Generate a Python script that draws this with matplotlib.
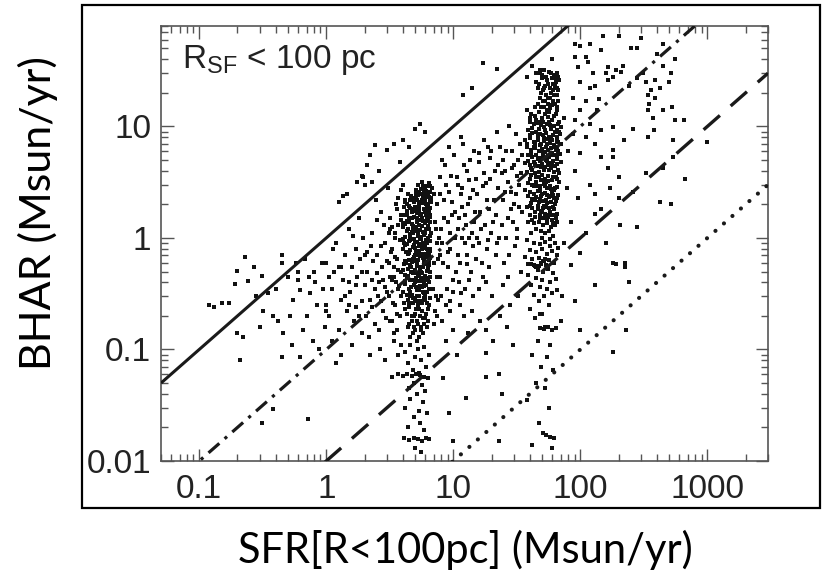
import numpy as np
import matplotlib
matplotlib.use("Agg")
import matplotlib.pyplot as plt
from matplotlib.patches import Rectangle
from matplotlib.ticker import FixedLocator, FuncFormatter, LogLocator, NullFormatter

plt.rcParams["mathtext.fontset"] = "custom"
plt.rcParams["mathtext.rm"] = "Liberation Sans"

# ---- data: (SFR, BHAR) pairs, grouped by region ----
col_a_core = [
    (5.3, 3.0), (5.7, 3.2), (6.1, 2.9), (6.4, 3.1), (5.9, 2.7), (6.6, 2.6), (5.5, 2.5), (6.2, 2.4), (6.8, 2.8), (5.1, 2.7),
    (4.4, 2.5), (6.0, 2.2), (6.5, 2.15), (5.6, 2.05), (4.8, 2.3), (6.3, 2.0), (5.8, 2.35), (4.2, 2.1), (6.7, 2.3), (5.2, 2.2),
    (4.1, 1.9), (4.6, 1.85), (5.0, 1.75), (5.4, 1.95), (5.9, 1.8), (6.4, 1.7), (4.3, 1.6), (4.9, 1.55), (5.6, 1.65), (6.2, 1.5),
    (3.9, 1.45), (4.5, 1.4), (5.2, 1.5), (5.8, 1.42), (6.6, 1.55), (4.7, 1.33), (5.4, 1.3), (6.0, 1.35), (4.2, 1.32), (6.5, 1.38),
    (4.0, 1.25), (4.4, 1.2), (4.8, 1.22), (5.1, 1.15), (5.5, 1.18), (6.1, 1.2), (6.7, 1.1), (4.6, 1.08), (5.3, 1.05), (5.9, 1.07),
    (4.2, 1.02), (4.9, 0.98), (5.6, 0.97), (6.3, 1.0), (4.5, 0.94), (5.2, 0.92), (5.8, 0.9), (6.5, 0.93), (4.1, 0.91), (4.7, 1.12),
    (4.3, 0.88), (4.9, 0.86), (5.4, 0.84), (6.0, 0.87), (6.6, 0.8), (4.0, 0.8), (4.6, 0.78), (5.1, 0.76), (5.7, 0.79), (6.3, 0.74),
    (4.4, 0.72), (5.0, 0.7), (5.5, 0.69), (6.1, 0.68), (4.8, 0.65), (5.3, 0.63), (5.9, 0.64), (4.2, 0.62), (6.5, 0.66), (4.7, 0.61),
    (4.1, 0.58), (4.6, 0.57), (5.2, 0.56), (5.8, 0.55), (6.4, 0.57), (4.4, 0.53), (5.0, 0.52), (5.6, 0.5), (6.2, 0.51), (3.9, 0.5),
    (4.8, 0.48), (5.4, 0.47), (6.0, 0.46), (4.3, 0.45), (5.1, 0.44), (5.7, 0.43), (6.6, 0.45), (4.6, 0.42), (5.3, 0.41), (5.9, 0.4),
    (4.2, 0.39), (4.9, 0.38), (5.5, 0.37), (6.1, 0.38), (4.5, 0.35), (5.2, 0.34), (5.8, 0.33), (6.4, 0.35), (4.0, 0.33), (4.7, 0.31),
    (5.4, 0.3), (6.0, 0.3), (4.4, 0.28), (5.0, 0.28), (5.6, 0.27), (6.2, 0.26), (4.8, 0.26), (5.3, 0.25), (4.1, 0.26), (5.9, 0.29),
    (4.5, 0.24), (5.1, 0.23), (5.7, 0.22), (6.3, 0.23), (4.3, 0.21), (4.9, 0.2), (5.5, 0.2), (6.0, 0.19), (4.7, 0.18), (5.3, 0.17),
    (5.9, 0.17), (4.4, 0.16), (5.0, 0.15), (5.6, 0.15), (6.2, 0.16), (4.8, 0.14), (5.4, 0.13), (5.8, 0.14), (4.6, 0.13), (5.2, 0.12),
    (4.35, 2.0), (5.45, 1.6), (6.05, 1.62), (4.75, 1.7), (5.05, 1.25), (5.75, 1.12), (6.35, 1.28), (4.55, 1.0), (5.35, 0.88), (6.15, 0.95),
    (4.85, 0.83), (5.65, 0.72), (6.45, 0.7), (4.25, 0.75), (5.15, 0.6), (5.95, 0.58), (4.65, 0.5), (5.45, 0.55), (6.25, 0.6), (4.15, 0.47),
    (5.25, 0.46), (6.35, 0.42), (4.95, 0.4), (5.65, 0.36), (4.55, 0.3), (5.85, 0.32), (6.55, 0.29), (5.15, 0.27), (4.65, 0.36), (5.5, 0.41),
    (6.05, 1.42), (5.2, 1.38), (4.45, 1.52), (5.95, 2.05), (6.5, 1.85), (5.35, 1.78), (4.95, 1.9), (4.1, 1.6), (5.7, 1.52), (6.3, 1.22),
    (4.3, 1.42), (4.85, 1.1), (5.55, 1.02), (6.6, 1.05), (4.05, 0.98), (5.0, 0.92), (5.75, 0.85), (6.2, 0.8), (4.5, 0.64), (5.3, 0.71),
]

col_a_dense = [
    (4.15, 2.2), (4.65, 2.4), (5.05, 2.55), (5.55, 2.75), (6.15, 2.65), (6.45, 2.35), (5.25, 2.45), (5.85, 2.5), (6.7, 2.1), (4.45, 1.95),
    (4.9, 2.1), (5.65, 2.2), (6.25, 1.85), (4.3, 1.75), (5.15, 1.68), (5.95, 1.72), (6.55, 1.62), (4.7, 1.5), (5.5, 1.45), (6.35, 1.45),
    (4.05, 1.35), (4.85, 1.28), (5.7, 1.28), (6.45, 1.2), (4.35, 1.15), (5.25, 1.1), (6.0, 1.1), (4.6, 0.96), (5.45, 0.99), (6.25, 0.9),
    (4.15, 0.86), (5.0, 0.82), (5.8, 0.81), (6.55, 0.77), (4.5, 0.74), (5.35, 0.76), (6.1, 0.72), (4.9, 0.68), (5.75, 0.66), (6.4, 0.62),
    (4.25, 0.6), (5.05, 0.62), (5.85, 0.6), (4.65, 0.55), (5.5, 0.53), (6.3, 0.54), (4.05, 0.52), (4.95, 0.5), (5.7, 0.48), (6.5, 0.49),
    (4.4, 0.46), (5.2, 0.48), (6.05, 0.44), (4.75, 0.42), (5.6, 0.44), (6.4, 0.4), (4.2, 0.41), (5.05, 0.36), (5.9, 0.37), (4.6, 0.33),
    (5.4, 0.34), (6.2, 0.33), (4.35, 0.31), (5.15, 0.3), (5.95, 0.28), (4.85, 0.29), (5.65, 0.26), (6.45, 0.25), (4.5, 0.26), (5.35, 0.23),
    (4.15, 0.23), (6.1, 0.21), (5.0, 0.21), (4.7, 0.2), (5.8, 0.19), (5.2, 0.18), (6.3, 0.18), (4.45, 0.17), (5.55, 0.16), (4.9, 0.16),
    (6.0, 2.85), (5.4, 2.6), (6.55, 2.95), (5.75, 2.95), (6.3, 2.5), (5.1, 2.35), (4.55, 2.2), (6.05, 2.0), (5.35, 2.1), (4.8, 1.8),
]

col_a_edge = [
    (3.2, 1.5), (3.5, 1.1), (3.3, 0.8), (3.6, 0.65), (3.4, 0.45), (3.7, 0.35), (3.1, 0.3), (3.5, 0.25), (3.8, 0.2), (3.3, 0.18),
    (3.6, 1.8), (3.7, 2.3), (3.4, 0.55), (3.0, 0.62), (3.8, 0.95), (3.2, 1.2), (3.55, 0.4), (7.2, 1.4), (7.4, 0.9), (7.1, 0.6),
    (7.5, 0.45), (7.0, 2.5), (7.3, 0.3), (7.8, 0.7), (7.2, 0.22), (3.9, 2.7), (4.0, 3.0), (3.6, 0.15), (7.0, 0.17), (3.4, 0.12),
    (4.6, 0.11), (5.3, 0.1), (5.9, 0.105), (4.2, 0.095), (6.4, 0.09), (5.0, 0.085), (5.6, 0.08), (4.4, 0.075), (6.1, 0.07), (4.8, 0.066),
    (5.4, 0.062), (4.3, 0.06), (4.7, 0.058), (5.1, 0.06), (5.5, 0.059), (5.9, 0.057), (6.3, 0.056), (4.9, 0.05), (5.7, 0.048), (4.5, 0.045),
    (6.0, 0.042), (5.2, 0.04), (4.6, 0.036), (5.8, 0.034), (4.2, 0.03), (5.4, 0.028), (6.2, 0.027), (4.9, 0.025), (5.5, 0.022), (4.4, 0.02),
    (5.9, 0.019), (4.1, 0.016), (4.5, 0.0155), (4.9, 0.016), (5.3, 0.0158), (5.7, 0.0152), (6.1, 0.016), (6.4, 0.0157), (5.0, 0.013), (5.6, 0.012),
    (3.3, 0.057), (3.7, 0.06), (4.0, 0.058),
]

col_b_core = [
    (48, 30), (52, 32), (57, 31), (62, 29), (66, 30), (50, 27), (55, 26), (60, 27), (64, 25), (68, 26),
    (47, 24), (53, 23), (58, 22), (63, 23), (67, 21), (49, 20), (54, 19), (59, 20), (65, 19), (51, 17),
    (56, 16), (61, 17), (46, 16), (66, 15), (58, 14.5),
    (38, 14), (41, 13), (44, 12.5), (47, 13.5), (50, 12), (53, 13), (56, 12.2), (60, 11.5), (64, 12.8), (68, 11),
    (40, 11), (43, 10.5), (46, 10.8), (49, 10.2), (52, 9.8), (55, 10.5), (59, 9.5), (62, 10), (66, 9.3), (70, 9.8),
    (39, 9.2), (42, 8.8), (45, 9), (48, 8.6), (51, 8.3), (54, 8.8), (57, 8.1), (61, 8.4), (65, 8), (69, 8.5),
    (37, 7.5), (40, 7.8), (43, 7.2), (46, 7.6), (49, 7), (52, 7.4), (55, 6.9), (58, 7.1), (62, 6.8), (67, 7.2),
    (38, 6.5), (41, 6.2), (44, 6.4), (47, 6), (50, 6.3), (53, 5.9), (56, 6.1), (60, 5.8), (64, 6.2), (69, 5.7),
    (39, 5.5), (42, 5.3), (45, 5.6), (48, 5.2), (51, 5.4), (54, 5), (57, 5.3), (61, 4.9), (65, 5.1), (70, 4.8),
    (37, 4.7), (40, 4.5), (43, 4.8), (46, 4.4), (50, 4.6), (53, 4.3), (56, 4.5), (59, 4.2), (63, 4.4), (67, 4.1),
    (38, 3.9), (41, 3.7), (44, 3.8), (47, 3.5), (50, 3.7), (53, 3.4), (56, 3.6), (60, 3.3), (64, 3.5), (68, 3.2),
    (39, 3.1), (42, 3.0), (45, 3.2), (48, 2.9), (52, 3.05), (55, 2.8), (58, 2.95), (62, 2.7), (66, 2.85), (37, 2.7),
    (40, 2.6), (43, 2.5), (46, 2.65), (49, 2.4), (53, 2.55), (57, 2.35), (61, 2.45), (65, 2.3), (44, 2.2), (51, 2.15),
    (55, 2.05), (59, 2.1), (63, 2.0), (41, 2.05), (47, 2.1),
    (38, 1.9), (42, 1.85), (46, 1.8), (50, 1.75), (54, 1.9), (58, 1.7), (62, 1.8), (66, 1.65), (40, 1.6), (44, 1.55),
    (48, 1.6), (52, 1.5), (56, 1.55), (60, 1.45), (64, 1.5), (39, 1.4), (43, 1.35), (47, 1.4), (51, 1.3), (55, 1.35),
    (59, 1.25), (63, 1.3), (45, 1.2), (49, 1.15), (53, 1.1), (57, 1.15), (61, 1.05), (41, 1.1), (50, 1.0), (58, 0.98),
    (45, 25), (61, 21), (56, 18), (52, 15), (63, 16), (48, 11), (57, 13.5), (44, 7), (59, 8), (66, 6.5),
    (48, 4.9), (58, 4.7), (42, 4.1), (54, 3.2), (60, 2.6), (67, 2.45), (49, 3.3), (46, 2.9), (52, 1.95), (57, 1.62),
]

col_b_dense = [
    (50, 29), (54, 28), (59, 30), (63, 27), (67, 28), (46, 22), (51, 21), (56, 24), (61, 24), (65, 22),
    (48, 18), (53, 17), (58, 18), (62, 19), (67, 17), (44, 15), (49, 15), (55, 14), (60, 15.5), (65, 14),
    (40, 12), (45, 11.5), (51, 11), (57, 11), (62, 12.5), (67, 10.5), (42, 9.7), (47, 9.4), (53, 9.2), (58, 10.2),
    (63, 9), (68, 9), (40, 8.3), (46, 8.2), (52, 7.8), (56, 7.7), (60, 7.6), (65, 7.4), (70, 7), (38, 6.9),
    (43, 6.6), (48, 6.8), (54, 6.5), (59, 6.4), (63, 6.6), (67, 6), (41, 5.8), (46, 5.1), (51, 5.8), (56, 5.4),
    (61, 5.5), (66, 5.5), (39, 4.9), (44, 4.6), (49, 4.3), (55, 4.9), (60, 4.6), (65, 4.6), (41, 4.2), (47, 3.9),
    (52, 4.1), (57, 4.1), (62, 3.9), (68, 3.8), (40, 3.4), (45, 3.5), (51, 3.3), (56, 3.25), (61, 3.5), (66, 3.35),
    (43, 2.9), (48, 2.7), (53, 2.9), (59, 2.75), (63, 2.8), (39, 2.4), (45, 2.35), (50, 2.5), (55, 2.45), (62, 2.3),
    (42, 2.25), (48, 2.25), (54, 2.2), (58, 2.4), (64, 2.15), (40, 1.95), (46, 1.95), (51, 1.85), (57, 1.85), (61, 1.9),
    (44, 1.72), (49, 1.7), (53, 1.65), (59, 1.6), (63, 1.62), (42, 1.45), (48, 1.5), (55, 1.42), (61, 1.35), (66, 1.4),
]

col_b_low = [
    (38, 0.95), (43, 0.9), (48, 0.88), (53, 0.92), (58, 0.85), (63, 0.9), (67, 0.82), (40, 0.78), (45, 0.75), (50, 0.8),
    (55, 0.72), (60, 0.76), (65, 0.7), (37, 0.68), (42, 0.65), (47, 0.66), (52, 0.62), (57, 0.64), (62, 0.6), (44, 0.56),
    (49, 0.58), (54, 0.57), (46, 0.52), (51, 0.5), (56, 0.53), (61, 0.48), (39, 0.47), (45, 0.44), (50, 0.42), (58, 0.4),
    (64, 0.43), (41, 0.38), (48, 0.36), (55, 0.35), (43, 0.31), (52, 0.3), (60, 0.32), (47, 0.27), (57, 0.25), (40, 0.23),
    (50, 0.21), (44, 0.19), (53, 0.16), (48, 0.155), (52, 0.152), (56, 0.158), (60, 0.15), (64, 0.155), (46, 0.12), (58, 0.11),
    (42, 0.09), (55, 0.085), (49, 0.07), (61, 0.065), (45, 0.05), (53, 0.045), (38, 0.035), (57, 0.03), (47, 0.022), (51, 0.018),
    (54, 0.017), (58, 0.0165), (62, 0.016), (42, 0.014), (60, 0.013),
    (39, 0.58), (41, 0.59), (43, 0.57), (45, 0.55), (47, 0.56), (49, 0.6), (51, 0.62), (53, 0.65),
]

mid_cloud = [
    (1.0, 0.6), (1.1, 0.35), (1.05, 0.2), (1.2, 0.9), (1.15, 0.5), (1.3, 0.28), (1.25, 0.15), (1.4, 0.7), (1.35, 0.42), (1.5, 1.2),
    (1.45, 0.22), (1.6, 0.55), (1.55, 0.33), (1.7, 0.8), (1.65, 0.18), (1.8, 1.5), (1.75, 0.45), (1.9, 0.27), (1.85, 0.65), (2.0, 0.38),
    (1.1, 0.12), (1.3, 0.09), (1.2, 0.075), (1.6, 0.11), (1.9, 0.14), (1.0, 0.25), (1.4, 0.3), (1.7, 0.24), (1.5, 0.4), (1.95, 1.0),
    (1.05, 0.45), (1.25, 0.55), (1.62, 1.05), (1.82, 0.2), (1.12, 0.8),
    (2.1, 0.5), (2.2, 0.28), (2.3, 1.1), (2.4, 0.17), (2.5, 0.7), (2.6, 0.4), (2.7, 1.7), (2.8, 0.22), (2.9, 0.9), (3.0, 0.33),
    (2.15, 0.13), (2.35, 0.62), (2.45, 2.2), (2.55, 0.3), (2.65, 0.1), (2.75, 0.55), (2.85, 1.3), (2.95, 0.19), (3.05, 2.8), (3.15, 0.45),
    (3.25, 0.75), (3.35, 0.26), (3.45, 1.0), (3.55, 2.0), (3.65, 0.09), (3.75, 0.37), (3.85, 1.6), (2.25, 0.85), (2.5, 1.45), (2.8, 0.42),
    (3.1, 0.6), (3.4, 0.14), (3.7, 0.52), (2.05, 0.2), (2.6, 0.15), (2.9, 0.08), (3.3, 1.25), (3.6, 0.21), (3.9, 0.11), (2.4, 0.35),
    (2.2, 0.09), (2.7, 0.27), (3.2, 0.18), (2.3, 0.42), (2.0, 0.7),
    (7.5, 2.0), (7.8, 3.5), (8.0, 1.2), (8.3, 0.6), (8.6, 4.5), (8.9, 0.35), (9.2, 2.6), (9.5, 0.8), (9.8, 1.6), (10.2, 5.5),
    (10.5, 0.5), (10.8, 3.0), (11.2, 0.25), (11.6, 1.9), (12.0, 7.0), (12.4, 0.9), (12.8, 4.0), (13.2, 0.42), (13.6, 2.3), (14.0, 1.1),
    (14.5, 6.0), (15.0, 0.65), (7.6, 0.28), (8.2, 0.18), (8.8, 0.12), (9.4, 0.22), (10.0, 0.15), (10.6, 0.09), (11.4, 0.32), (12.2, 0.2),
    (13.0, 0.14), (14.2, 0.3), (7.7, 1.0), (8.4, 2.2), (9.0, 1.4), (9.6, 3.6), (10.4, 1.0), (11.0, 1.5), (11.8, 2.8), (12.6, 1.3),
    (13.4, 3.3), (14.8, 1.7), (7.9, 0.45), (9.1, 0.55), (10.9, 0.7), (12.9, 0.58), (14.4, 0.85), (8.1, 5.0), (9.3, 6.5), (11.5, 8.0),
    (15.5, 2.5), (16.0, 4.8), (16.5, 1.2), (17.0, 0.45), (17.5, 7.5), (18.0, 3.1), (18.5, 0.8), (19.0, 1.8), (19.5, 5.2), (20.0, 0.3),
    (21, 2.2), (22, 9.0), (23, 1.0), (24, 3.8), (25, 0.6), (26, 6.0), (27, 1.5), (28, 0.25), (29, 4.2), (30, 2.0),
    (31, 8.5), (32, 1.2), (33, 3.0), (34, 0.5), (35, 5.5), (16.2, 0.18), (18.2, 0.15), (20.5, 0.12), (23.5, 0.2), (26.5, 0.16),
    (29.5, 0.11), (32.5, 0.3), (17.2, 2.9), (19.8, 1.1), (22.5, 4.5), (25.5, 2.6), (28.5, 1.8), (31.5, 3.6), (21.5, 0.7), (24.5, 0.38),
    (27.5, 10.0), (30.5, 0.85), (33.5, 7.0), (15.8, 0.9), (18.8, 6.5), (21.8, 1.6), (24.8, 5.0), (34.5, 1.7), (26.8, 0.45), (19.2, 0.55),
    (8.3, 0.055), (9.2, 0.027), (12.5, 0.037), (10.0, 0.015), (18, 0.057), (23, 0.06), (24, 0.04), (23, 0.015), (18, 0.093), (9.4, 0.27),
]

mid_extra = [
    (1.3, 0.55), (1.5, 0.25), (1.7, 0.38), (1.9, 0.5), (2.1, 0.75), (2.3, 0.24), (2.5, 0.48), (2.7, 0.85), (2.9, 0.36), (3.1, 1.1),
    (3.3, 0.42), (3.5, 0.68), (3.7, 1.3), (3.9, 0.3), (7.3, 1.2), (7.6, 0.65), (7.9, 2.5), (8.2, 0.9), (8.5, 1.5), (8.8, 3.0),
    (9.1, 0.75), (9.4, 1.1), (9.7, 2.1), (10.0, 0.42), (10.3, 1.7), (10.6, 3.5), (10.9, 1.2), (11.2, 0.6), (11.5, 2.5), (11.8, 1.0),
    (12.1, 4.5), (12.4, 1.6), (12.7, 0.7), (13.0, 2.0), (13.3, 1.0), (13.6, 5.0), (13.9, 0.5), (14.2, 2.7), (14.6, 1.4), (15.0, 3.4),
    (15.4, 1.0), (15.8, 5.8), (16.3, 1.7), (16.8, 0.6), (17.3, 3.8), (17.8, 1.3), (18.3, 2.2), (18.8, 0.95), (19.3, 3.4), (19.8, 6.0),
    (20.5, 1.4), (21.2, 4.0), (21.9, 0.9), (22.6, 2.8), (23.3, 6.5), (24.0, 1.3), (24.7, 2.2), (25.4, 4.0), (26.1, 1.0), (26.8, 3.2),
    (27.5, 0.7), (28.2, 2.6), (28.9, 6.0), (29.6, 1.4), (30.3, 4.5), (31.0, 2.5), (31.7, 1.0), (32.4, 5.0), (33.1, 1.9), (33.8, 3.8),
    (6.9, 0.35), (7.4, 0.2), (8.0, 0.3), (8.7, 0.25), (9.9, 0.33), (11.0, 0.4), (12.3, 0.35), (14.0, 0.22), (16.0, 0.35), (18.0, 0.4),
]

above_line = [
    (1.95, 3.5), (2.1, 4.5), (2.2, 5.6), (2.4, 6.8), (2.0, 3.0), (1.25, 2.1), (1.35, 2.4), (1.45, 2.5), (1.75, 3.2), (1.9, 3.6),
    (3.0, 6.2), (3.4, 7.0), (4.0, 7.5), (4.5, 6.5), (5.0, 9.5), (5.5, 10.5), (6.0, 9.0), (2.6, 4.0), (2.3, 3.2), (3.8, 4.8),
    (17, 37), (22, 33), (14, 22), (12, 19), (48, 32), (38, 28), (42, 35), (52, 22), (45, 30), (60, 40),
]

left_cloud = [
    (0.12, 0.25), (0.13, 0.24), (0.15, 0.26), (0.17, 0.26), (0.19, 0.39), (0.2, 0.51), (0.23, 0.67), (0.27, 0.55), (0.24, 0.41), (0.31, 0.46),
    (0.2, 0.14), (0.22, 0.13), (0.21, 0.08), (0.45, 0.6), (0.45, 0.7), (0.4, 0.35), (0.5, 0.45), (0.32, 0.22), (0.3, 0.16), (0.38, 0.2),
    (0.42, 0.18), (0.46, 0.14), (0.45, 0.085), (0.54, 0.11), (0.62, 0.085), (0.72, 0.024), (0.31, 0.022), (0.38, 0.029), (0.62, 0.34), (0.6, 0.42),
    (0.6, 0.5), (0.7, 0.2), (0.85, 0.25), (1.0, 0.22), (0.75, 0.32), (0.95, 0.35), (0.8, 0.5), (0.92, 0.6), (0.55, 0.28), (0.65, 0.15),
    (0.78, 0.12), (0.88, 0.1), (0.68, 0.65), (0.35, 0.32), (0.28, 0.3), (0.52, 0.2), (0.82, 0.4), (0.58, 0.6), (0.73, 0.45), (0.97, 0.16),
]

right_cloud = [
    (90, 55), (100, 53), (120, 55), (150, 65), (200, 65), (300, 62), (250, 50), (280, 50), (450, 55), (145, 48),
    (90, 42), (110, 42), (115, 38), (95, 34), (125, 30), (100, 25), (120, 22), (130, 23), (165, 34), (190, 32),
    (180, 28), (210, 31), (165, 26), (240, 23), (280, 27), (330, 25), (360, 21), (420, 22), (500, 25), (520, 30),
    (450, 35), (390, 26), (88, 18), (110, 17), (140, 17.5), (100, 14), (135, 14), (90, 11.5), (120, 10.5), (88, 8.5),
    (110, 8), (145, 9.2), (180, 9.8), (340, 19), (350, 16), (390, 18), (340, 14), (370, 12), (450, 14), (560, 11.5),
    (530, 15), (660, 11.5), (380, 9.2), (340, 8), (260, 9.5), (220, 7.5), (180, 6.2), (145, 5.3), (130, 7), (100, 5.8),
    (90, 4), (165, 4.2), (180, 5.3), (200, 3.5), (330, 3.8), (450, 4.2), (540, 7.5), (540, 5.3), (420, 2.1), (520, 2.0),
    (670, 3.4), (1000, 7.2), (120, 3), (130, 2.5), (170, 2.8), (200, 2.3), (145, 1.8), (260, 2.6), (95, 2.3), (130, 1.65),
    (205, 1.3), (280, 1.25), (90, 0.27), (130, 0.38), (180, 0.6), (225, 0.6), (190, 0.58), (225, 0.55), (240, 0.4), (100, 0.15),
    (180, 0.095), (230, 0.15), (65, 0.34), (72, 0.3), (48, 0.21), (70, 0.18), (85, 0.57), (100, 0.73), (160, 30), (215, 35),
    (75, 12), (80, 6), (78, 2.8), (85, 1.4), (110, 1.1), (160, 0.9), (75, 0.9), (310, 30), (560, 40), (400, 45),
]

line_ratios = [1.0, 0.1, 0.01, 0.001]   # BHAR/SFR for the four reference lines

# ---- figure ----
fig = plt.figure(figsize=(8.25, 5.8), dpi=100)
ax = fig.add_axes([161 / 825, 1 - 461 / 580, (768 - 161) / 825, (461 - 25.7) / 580])
ax.set_xscale("log")
ax.set_yscale("log")
ax.set_xlim(0.05, 3000)
ax.set_ylim(0.01, 80)

pts = np.array(col_a_core + col_a_dense + col_a_edge + col_b_core + col_b_dense + col_b_low
               + mid_cloud + mid_extra + above_line + left_cloud + right_cloud)
ax.plot(pts[:, 0], pts[:, 1], ls="none", marker="s", ms=2.4, mew=0, color="#111111", zorder=2)

xl = np.array(ax.get_xlim())
ax.plot(xl, line_ratios[0] * xl, color="#1a1a1a", lw=2.2, solid_capstyle="butt", zorder=3)
ax.plot(xl, line_ratios[1] * xl, color="#1a1a1a", lw=2.3, ls=(0, (4.5, 2.2, 1.0, 2.2)), zorder=3)
ax.plot(xl, line_ratios[2] * xl, color="#1a1a1a", lw=2.4, ls=(0, (6.5, 4.3)), zorder=3)
ax.plot(xl, line_ratios[3] * xl, color="#1a1a1a", lw=3.0, ls=(0, (0.01, 2.7)),
        dash_capstyle="round", zorder=3)

# ---- axes styling ----
for s in ax.spines.values():
    s.set_color("#555555")
    s.set_linewidth(1.2)

fmt = FuncFormatter(lambda v, p: f"{v:g}")
ax.xaxis.set_major_locator(FixedLocator([0.1, 1, 10, 100, 1000]))
ax.yaxis.set_major_locator(FixedLocator([0.01, 0.1, 1, 10]))
ax.xaxis.set_major_formatter(fmt)
ax.yaxis.set_major_formatter(fmt)
ax.xaxis.set_minor_locator(LogLocator(base=10, subs=np.arange(2, 10), numticks=20))
ax.yaxis.set_minor_locator(LogLocator(base=10, subs=np.arange(2, 10), numticks=20))
ax.xaxis.set_minor_formatter(NullFormatter())
ax.yaxis.set_minor_formatter(NullFormatter())
ax.tick_params(which="both", direction="in", top=True, right=True, color="#555555", width=1.0)
ax.tick_params(which="major", length=9)
ax.tick_params(which="minor", length=5)
ax.tick_params(axis="both", which="major", labelsize=24, labelcolor="#222222")
ax.tick_params(axis="x", pad=9)
ax.tick_params(axis="y", pad=7)
for lab in ax.get_xticklabels() + ax.get_yticklabels():
    lab.set_family("Liberation Sans")

ax.text(0.035, 0.902, r"R$_{\mathrm{SF}}$ < 100 pc", transform=ax.transAxes,
        fontsize=24, family="Liberation Sans", color="#222222", ha="left", va="baseline")

# outer frame of the slide panel
fig.patches.append(Rectangle((82 / 825, 1 - 508 / 580), (820 - 82) / 825, (508 - 5) / 580,
                             transform=fig.transFigure, fill=False, lw=1.6, ec="black"))

fig.text(38 / 825, 1 - 213 / 580, "BHAR (Msun/yr)", rotation=90, ha="center", va="center",
         fontsize=31, family="Lato", color="black")
fig.text(465 / 825, 1 - 550 / 580, "SFR[R<100pc] (Msun/yr)", ha="center", va="center",
         fontsize=30, family="Lato", color="black")

# cut-off orange title fragments at the very top
fig.text(243 / 825, 1 + 7 / 580, "p", fontsize=30, family="Lato", color="#f47b20", ha="left", va="baseline")
fig.text(438 / 825, 1 + 7 / 580, "g", fontsize=30, family="Lato", color="#f47b20", ha="left", va="baseline")

fig.savefig("out.png", dpi=100)
